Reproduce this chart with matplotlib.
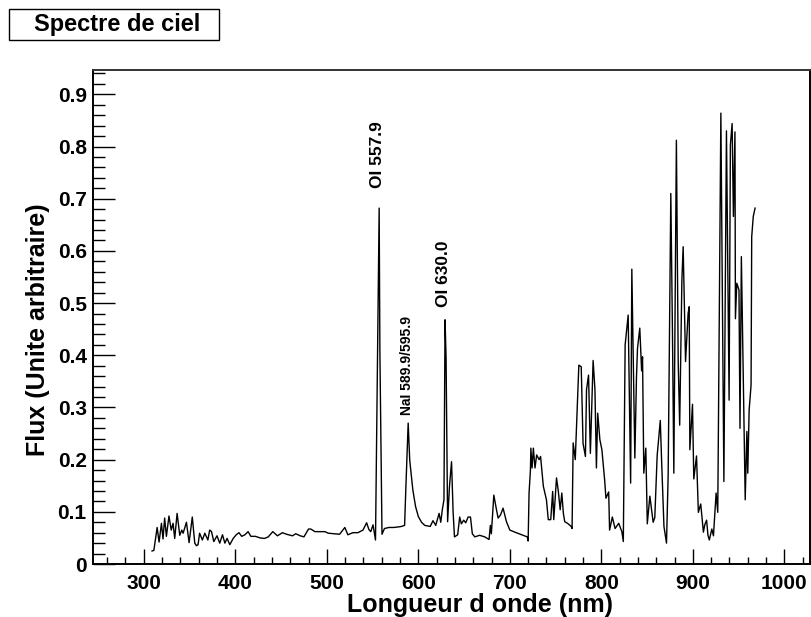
import matplotlib
matplotlib.use("Agg")
import matplotlib.pyplot as plt
from matplotlib.patches import Rectangle
from matplotlib.ticker import MultipleLocator, FuncFormatter

plt.rcParams['font.family'] = ['Liberation Sans', 'DejaVu Sans']
plt.rcParams['font.weight'] = 'bold'

# Spectrum data (wavelength nm, flux arbitrary units)
wavelength = [
    309.0, 311.0, 314.6, 316.7, 319.3, 321.0, 322.8, 324.7, 327.5, 330.0,
    332.0, 333.8, 336.4, 339.3, 341.5, 343.0, 346.6, 349.5, 353.0, 355.7,
    357.6, 359.3, 361.0, 364.0, 366.7, 370.0, 372.0, 374.0, 376.5, 380.0,
    383.0, 386.0, 388.6, 391.0, 394.0, 397.7, 401.0, 404.0, 407.0, 410.5,
    414.0, 417.0, 422.0, 427.0, 432.0, 436.0, 441.0, 446.0, 451.5, 456.0,
    462.5, 466.0, 471.0, 475.0, 480.0, 482.5, 487.0, 493.0, 498.0, 501.5,
    508.0, 514.0, 519.7, 523.0, 528.5, 534.0, 539.5, 543.5, 546.0, 548.0,
    550.5, 553.2, 557.2, 558.0, 560.3, 563.0, 568.0, 573.0, 578.0, 581.6,
    585.0, 586.3, 588.9, 590.6, 594.0, 597.0, 600.0, 603.5, 607.0, 613.0,
    616.0, 619.0, 622.7, 624.5, 626.3, 628.0, 629.2, 630.3, 631.0, 632.0,
    634.0, 636.3, 638.0, 639.5, 643.0, 645.2, 647.0, 649.6, 651.8, 654.4,
    657.0, 659.0, 661.7, 667.0, 672.5, 677.3, 678.7, 679.8, 682.5, 685.4,
    687.2, 689.8, 692.6, 696.3, 700.0, 707.0, 714.6, 719.0, 720.0, 721.0,
    722.5, 723.0, 724.3, 725.7, 727.5, 729.3, 732.0, 733.6, 736.6, 740.0,
    742.0, 744.7, 746.8, 748.0, 751.0, 753.0, 755.0, 756.8, 758.5, 760.0,
    763.0, 767.0, 768.0, 769.2, 771.5, 775.4, 778.0, 780.0, 782.6, 783.8,
    786.0, 788.0, 791.0, 793.0, 794.6, 796.0, 798.4, 800.6, 803.6, 805.0,
    808.0, 809.0, 812.0, 815.0, 819.0, 822.4, 824.0, 826.0, 829.3, 832.0,
    833.3, 836.6, 838.4, 839.5, 842.0, 844.0, 845.0, 846.4, 848.6, 850.2,
    853.0, 856.6, 858.4, 861.0, 863.2, 864.4, 866.0, 868.4, 871.2, 873.0,
    875.9, 877.7, 879.2, 882.0, 884.0, 885.6, 888.0, 889.4, 890.6, 892.0,
    894.8, 896.0, 896.7, 899.6, 901.0, 904.0, 906.0, 908.6, 911.5, 913.0,
    915.0, 916.5, 918.0, 920.7, 922.5, 925.4, 927.2, 930.6, 933.9, 936.7,
    939.6, 941.0, 942.9, 944.3, 946.0, 946.5, 948.0, 950.4, 951.5, 953.0,
    957.2, 959.0, 960.0, 961.5, 963.6, 964.3, 966.0, 968.0,
]
flux = [
    0.025, 0.026, 0.070, 0.042, 0.078, 0.048, 0.088, 0.053, 0.092, 0.065,
    0.078, 0.049, 0.097, 0.055, 0.065, 0.059, 0.080, 0.041, 0.090, 0.040,
    0.035, 0.037, 0.059, 0.046, 0.059, 0.046, 0.065, 0.062, 0.043, 0.054,
    0.040, 0.056, 0.040, 0.049, 0.037, 0.049, 0.056, 0.060, 0.053, 0.056,
    0.062, 0.053, 0.053, 0.050, 0.049, 0.052, 0.062, 0.054, 0.060, 0.057,
    0.054, 0.058, 0.054, 0.052, 0.067, 0.067, 0.062, 0.062, 0.062, 0.059,
    0.058, 0.057, 0.070, 0.056, 0.060, 0.060, 0.065, 0.079, 0.066, 0.062,
    0.075, 0.046, 0.682, 0.407, 0.057, 0.068, 0.070, 0.070, 0.071, 0.072,
    0.074, 0.142, 0.270, 0.199, 0.142, 0.110, 0.091, 0.080, 0.074, 0.072,
    0.083, 0.074, 0.097, 0.080, 0.105, 0.123, 0.468, 0.397, 0.260, 0.081,
    0.148, 0.196, 0.100, 0.052, 0.056, 0.090, 0.077, 0.084, 0.079, 0.090,
    0.090, 0.058, 0.052, 0.055, 0.052, 0.047, 0.074, 0.058, 0.132, 0.104,
    0.088, 0.094, 0.107, 0.081, 0.065, 0.060, 0.055, 0.052, 0.044, 0.136,
    0.180, 0.222, 0.184, 0.222, 0.184, 0.209, 0.200, 0.206, 0.149, 0.123,
    0.085, 0.085, 0.139, 0.085, 0.165, 0.139, 0.104, 0.136, 0.097, 0.081,
    0.078, 0.072, 0.068, 0.232, 0.200, 0.381, 0.378, 0.231, 0.206, 0.334,
    0.362, 0.212, 0.390, 0.334, 0.184, 0.289, 0.238, 0.219, 0.161, 0.126,
    0.138, 0.065, 0.090, 0.068, 0.078, 0.062, 0.043, 0.420, 0.477, 0.155,
    0.565, 0.203, 0.359, 0.413, 0.452, 0.370, 0.397, 0.174, 0.222, 0.077,
    0.130, 0.080, 0.089, 0.208, 0.250, 0.275, 0.190, 0.072, 0.040, 0.170,
    0.710, 0.444, 0.174, 0.812, 0.385, 0.266, 0.544, 0.608, 0.503, 0.388,
    0.480, 0.493, 0.219, 0.306, 0.163, 0.207, 0.099, 0.115, 0.061, 0.075,
    0.084, 0.055, 0.046, 0.067, 0.054, 0.136, 0.099, 0.864, 0.158, 0.830,
    0.314, 0.803, 0.844, 0.666, 0.828, 0.470, 0.538, 0.525, 0.260, 0.589,
    0.123, 0.254, 0.174, 0.295, 0.343, 0.627, 0.666, 0.682,
]

line_labels = ["OI 557.9", "NaI 589.9/595.9", "OI 630.0"]
label_x = [555.2, 588.0, 627.5]
label_y = [0.72, 0.286, 0.493]
label_size = [12.5, 10.0, 12.5]

title = "Spectre de ciel"
xlabel = "Longueur d onde (nm)"
ylabel = "Flux (Unite arbitraire)"

W, H = 811, 617
fig = plt.figure(figsize=(W / 100, H / 100), dpi=100)
ax = fig.add_axes([93 / W, 1 - 564 / H, (810 - 93) / W, (564 - 70) / H])

ax.plot(wavelength, flux, color='black', lw=1.0)
ax.set_xlim(244.5, 1028)
ax.set_ylim(0, 0.9466)

ax.xaxis.set_major_locator(MultipleLocator(100))
ax.xaxis.set_minor_locator(MultipleLocator(20))
ax.yaxis.set_major_locator(MultipleLocator(0.1))
ax.yaxis.set_minor_locator(MultipleLocator(0.02))
ax.yaxis.set_major_formatter(FuncFormatter(lambda v, p: "0" if abs(v) < 1e-9 else f"{v:.1f}"))

ax.tick_params(axis='x', which='major', direction='in', length=10.8, width=1.0, pad=7, labelsize=15)
ax.tick_params(axis='x', which='minor', direction='in', length=5.4, width=1.0)
ax.tick_params(axis='y', which='major', direction='in', length=15.6, width=1.0, pad=4.5, labelsize=15)
ax.tick_params(axis='y', which='minor', direction='in', length=8.4, width=1.0)
for lab in ax.get_xticklabels() + ax.get_yticklabels():
    lab.set_fontweight('bold')
for s in ax.spines.values():
    s.set_linewidth(1.4)
ax.spines['top'].set_color('#333333')

for t, x, y, s in zip(line_labels, label_x, label_y, label_size):
    ax.text(x, y, t, rotation=90, ha='center', va='bottom', fontsize=s, fontweight='bold')

fig.text(480 / W, 1 - 605 / H, xlabel, ha='center', va='center', fontsize=18, fontweight='bold')
fig.text(38 / W, 1 - 330 / H, ylabel, ha='center', va='center', rotation=90, fontsize=18, fontweight='bold')

fig.patches.append(Rectangle((9 / W, 1 - 40 / H), 210 / W, 31 / H, transform=fig.transFigure,
                             facecolor='white', edgecolor='black', lw=1.0))
fig.text(117 / W, 1 - 24.5 / H, title, ha='center', va='center', fontsize=17, fontweight='bold')

fig.savefig("out.png", dpi=100)
